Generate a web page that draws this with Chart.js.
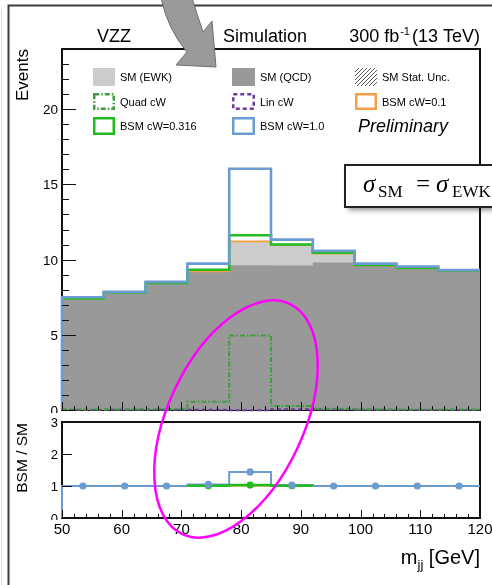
<!DOCTYPE html>
<html>
<head>
<meta charset="utf-8">
<title>VZZ m_jj</title>
<script src="https://cdn.jsdelivr.net/npm/chart.js@4.4.1/dist/chart.umd.min.js"></script>
<style>
  html, body { margin: 0; padding: 0; background: #ffffff; }
  #wrap { position: relative; width: 492px; height: 585px; overflow: hidden; }
  #wrap canvas { position: absolute; left: 0; }
  #main { top: 0; }
  #ratio { top: 413px; }
  #notes { top: 0; pointer-events: none; }
</style>
</head>
<body>
<div id="wrap">
  <canvas id="main" width="492" height="413"></canvas>
  <canvas id="ratio" width="492" height="172"></canvas>
  <canvas id="notes" width="492" height="585"></canvas>
</div>
<script>
// ---- m_jj binning (GeV) ----
const binEdges = [50, 57, 64, 71, 78, 85, 92, 99, 106, 113, 120];

// ---- expected events per bin ----
const smQCD    = [7.40, 7.80, 8.45, 9.20, 9.62, 9.60, 9.80, 9.60, 9.40, 9.25];
const smEWK    = [0.02, 0.02, 0.02, 0.05, 1.53, 1.37, 0.60, 0.05, 0.05, 0.03];
const quadCW   = [0.03, 0.03, 0.05, 0.55, 4.95, 0.27, 0.08, 0.04, 0.03, 0.03];
const linCW    = [0.00, 0.01, 0.01, 0.02, -0.02, 0.05, 0.03, 0.01, 0.00, 0.00];
const bsmCW01  = [7.40, 7.80, 8.45, 9.22, 11.20, 10.97, 10.41, 9.62, 9.42, 9.27];
const bsmCW0316 = [7.42, 7.82, 8.45, 9.32, 11.62, 11.00, 10.45, 9.64, 9.44, 9.28];
const bsmCW1   = [7.50, 7.85, 8.52, 9.73, 16.04, 11.33, 10.58, 9.73, 9.53, 9.30];

// ---- BSM / SM ratios per bin (null: bin not drawn) ----
const ratioCW01   = [null, null, null, 1.00, 1.005, 1.00, null, null, null, null];
const ratioCW0316 = [null, null, null, 1.01, 1.03, 1.01, null, null, null, null];
const ratioCW1    = [1.00, 1.00, 1.00, 1.05, 1.44, 1.03, 1.00, 1.00, 1.00, 1.00];

// ---- axis tick labels ----
const eventTicks = [0, 5, 10, 15, 20];
const ratioTicks = [0, 1, 2, 3];
const massTicks  = [50, 60, 70, 80, 90, 100, 110, 120];

const SANS = '"Liberation Sans", Arial, Helvetica, sans-serif';
const SERIF = '"Liberation Serif", "DejaVu Serif", serif';

const C = {
  ewk: '#cccccc', qcd: '#999999',
  quad: '#3f9c3f', lin: '#6a3d9a',
  cw01: '#f2a14a', cw0316: '#1fbd1f', cw1: '#6b9bcf'
};

const smTotal = smQCD.map((v, i) => v + smEWK[i]);
const binCenters = binEdges.slice(0, -1).map((e, i) => (e + binEdges[i + 1]) / 2);

// histogram outline as stepped points: each bin's value sits at its right edge;
// Chart.js 'after' stepping rises at the previous (left) edge, then runs flat.
// Empty (null) bins break the outline.
function stepPoints(vals, fromZero) {
  const pts = [];
  let open = false;
  vals.forEach((v, i) => {
    if (v === null) {
      if (open) pts.push({ x: binEdges[i], y: null });
      open = false;
      return;
    }
    if (!open) pts.push({ x: binEdges[i], y: (i === 0 && fromZero) ? 0 : v });
    pts.push({ x: binEdges[i + 1], y: v });
    open = true;
  });
  return pts;
}
function stepLine(label, vals, color, width, dash, order, fromZero) {
  return {
    label, data: stepPoints(vals, fromZero), stepped: 'after', spanGaps: false,
    borderColor: color, borderWidth: width, borderDash: dash || [],
    borderJoinStyle: 'miter', borderCapStyle: 'butt',
    fill: false, pointRadius: 0, order, clip: 6
  };
}
function stepFill(label, vals, color, order) {
  return {
    label, data: stepPoints(vals, false), stepped: 'after',
    borderColor: 'rgba(0,0,0,0)', borderWidth: 0,
    backgroundColor: color, fill: 'origin', pointRadius: 0, order
  };
}
function markers(label, vals, color, order) {
  return {
    label,
    data: binCenters.map((x, i) => ({ x, y: vals[i] })).filter(p => p.y !== null),
    showLine: false, pointRadius: 3.6, pointBackgroundColor: color,
    pointBorderWidth: 0, order, clip: 6
  };
}

// ---- drawing helpers ----
function frame(ctx, a, w) {
  ctx.save();
  ctx.strokeStyle = '#111';
  ctx.lineWidth = w;
  ctx.strokeRect(a.left, a.top, a.right - a.left, a.bottom - a.top);
  ctx.restore();
}
function xTicks(ctx, sx, yBase, majorLen, minorLen) {
  ctx.save();
  ctx.strokeStyle = '#111';
  ctx.lineWidth = 1;
  ctx.beginPath();
  for (let v = sx.min; v <= sx.max + 1e-9; v += 2) {
    const px = Math.round(sx.getPixelForValue(v)) + 0.5;
    const len = massTicks.includes(v) ? majorLen : minorLen;
    ctx.moveTo(px, yBase);
    ctx.lineTo(px, yBase - len);
  }
  ctx.stroke();
  ctx.restore();
}
function rotatedText(ctx, txt, x, y, font) {
  ctx.save();
  ctx.translate(x, y);
  ctx.rotate(-Math.PI / 2);
  ctx.font = font;
  ctx.fillStyle = '#000';
  ctx.textAlign = 'right';
  ctx.textBaseline = 'alphabetic';
  ctx.fillText(txt, 0, 0);
  ctx.restore();
}

// ---- main panel decorations: frame, axes, titles, legend ----
const mainDecor = {
  id: 'mainDecor',
  beforeDatasetsDraw(chart) {
    frame(chart.ctx, chart.chartArea, 2);
  },
  afterDatasetsDraw(chart) {
    const ctx = chart.ctx, a = chart.chartArea;
    const sx = chart.scales.x, sy = chart.scales.y;

    // y ticks (inside) and labels
    ctx.save();
    ctx.strokeStyle = '#111';
    ctx.lineWidth = 1;
    ctx.beginPath();
    for (let v = 0; v <= sy.max; v += 1) {
      const py = Math.round(sy.getPixelForValue(v)) + 0.5;
      const len = eventTicks.includes(v) ? 14 : 7;
      ctx.moveTo(a.left, py);
      ctx.lineTo(a.left + len, py);
    }
    ctx.stroke();
    ctx.font = '13.5px ' + SANS;
    ctx.fillStyle = '#000';
    ctx.textAlign = 'right';
    ctx.textBaseline = 'alphabetic';
    eventTicks.forEach(v => {
      ctx.fillText(String(v), a.left - 4, sy.getPixelForValue(v) + 5);
    });
    ctx.restore();

    xTicks(ctx, sx, a.bottom, 8, 4);

    rotatedText(ctx, 'Events', 28, a.top, '17px ' + SANS);

    // header
    ctx.save();
    ctx.fillStyle = '#000';
    ctx.textBaseline = 'alphabetic';
    ctx.font = '18px ' + SANS;
    ctx.textAlign = 'left';
    ctx.fillText('VZZ', 97, 42);
    ctx.fillText('Simulation', 223, 42);
    ctx.textAlign = 'right';
    const tail = '(13 TeV)';
    ctx.fillText(tail, a.right, 42);
    const tailW = ctx.measureText(tail).width;
    ctx.font = '11px ' + SANS;
    const sup = '-1';
    const supW = ctx.measureText(sup).width;
    ctx.fillText(sup, a.right - tailW - 2, 35);
    ctx.font = '18px ' + SANS;
    ctx.fillText('300 fb', a.right - tailW - 2 - supW - 1, 42);
    ctx.restore();

    // legend
    const cols = [93, 232, 355];
    const textX = [120, 260, 382];
    const rows = [{ y: 68, h: 18, base: 81 }, { y: 93, h: 17, base: 106 }, { y: 117, h: 18, base: 130 }];
    const sw = 22;
    ctx.save();
    ctx.font = '11px ' + SANS;
    ctx.fillStyle = '#000';
    ctx.textAlign = 'left';
    ctx.textBaseline = 'alphabetic';

    // row 1
    ctx.fillStyle = C.ewk; ctx.fillRect(cols[0], rows[0].y, sw, rows[0].h);
    ctx.fillStyle = C.qcd; ctx.fillRect(cols[1], rows[0].y, sw + 1, rows[0].h);
    ctx.save();
    ctx.beginPath(); ctx.rect(cols[2], rows[0].y, sw, rows[0].h); ctx.clip();
    ctx.strokeStyle = '#555'; ctx.lineWidth = 1;
    ctx.beginPath();
    for (let k = -18; k < sw + 4; k += 4) {
      ctx.moveTo(cols[2] + k, rows[0].y + rows[0].h);
      ctx.lineTo(cols[2] + k + rows[0].h, rows[0].y);
    }
    ctx.stroke();
    ctx.restore();
    ctx.fillStyle = '#000';
    ctx.fillText('SM (EWK)', textX[0], rows[0].base);
    ctx.fillText('SM (QCD)', textX[1], rows[0].base);
    ctx.fillText('SM Stat. Unc.', textX[2], rows[0].base);

    // outlined swatches
    const box = (x, r, color, dash, wid) => {
      ctx.save();
      ctx.strokeStyle = color; ctx.lineWidth = 2.5; ctx.setLineDash(dash);
      ctx.strokeRect(x + 1.25, r.y + 1.25, wid - 2.5, r.h - 2.5);
      ctx.restore();
    };
    box(cols[0], rows[1], C.quad, [5, 2, 1.5, 2], sw);
    box(cols[1], rows[1], C.lin, [4, 3], sw + 1);
    box(cols[2], rows[1], C.cw01, [], sw);
    box(cols[0], rows[2], C.cw0316, [], sw);
    box(cols[1], rows[2], C.cw1, [], sw + 1);
    ctx.fillText('Quad cW', textX[0], rows[1].base);
    ctx.fillText('Lin cW', textX[1], rows[1].base);
    ctx.fillText('BSM cW=0.1', textX[2], rows[1].base);
    ctx.fillText('BSM cW=0.316', textX[0], rows[2].base);
    ctx.fillText('BSM cW=1.0', textX[1], rows[2].base);
    ctx.font = 'italic 18px ' + SANS;
    ctx.fillText('Preliminary', 358, 132);
    ctx.restore();
  }
};

// ---- ratio panel decorations ----
const ratioDecor = {
  id: 'ratioDecor',
  beforeDatasetsDraw(chart) {
    frame(chart.ctx, chart.chartArea, 2);
  },
  afterDatasetsDraw(chart) {
    const ctx = chart.ctx, a = chart.chartArea;
    const sx = chart.scales.x, sy = chart.scales.y;
    ctx.save();
    ctx.strokeStyle = '#111';
    ctx.lineWidth = 1;
    ctx.beginPath();
    ratioTicks.forEach(v => {
      const py = Math.round(sy.getPixelForValue(v)) + 0.5;
      ctx.moveTo(a.left, py);
      ctx.lineTo(a.left + 10, py);
    });
    ctx.stroke();
    ctx.fillStyle = '#000';
    ctx.font = '13px ' + SANS;
    ctx.textAlign = 'right';
    ctx.textBaseline = 'alphabetic';
    ctx.save();
    ctx.beginPath(); ctx.rect(0, 0, a.left, a.bottom + 2); ctx.clip();
    ratioTicks.forEach(v => {
      ctx.fillText(String(v), a.left - 4, sy.getPixelForValue(v) + 4.5);
    });
    ctx.restore();
    ctx.restore();

    xTicks(ctx, sx, a.bottom, 8, 4);

    ctx.save();
    ctx.fillStyle = '#000';
    ctx.font = '15px ' + SANS;
    ctx.textAlign = 'center';
    ctx.textBaseline = 'alphabetic';
    massTicks.forEach(v => {
      ctx.fillText(String(v), sx.getPixelForValue(v), a.bottom + 16);
    });
    // axis title m_jj [GeV]
    ctx.textAlign = 'right';
    ctx.font = '20px ' + SANS;
    const unit = ' [GeV]';
    const base = a.bottom + 46;
    ctx.fillText(unit, a.right, base);
    const uW = ctx.measureText(unit).width;
    ctx.font = '13px ' + SANS;
    ctx.fillText('jj', a.right - uW, base + 5);
    const jW = ctx.measureText('jj').width;
    ctx.font = '20px ' + SANS;
    ctx.fillText('m', a.right - uW - jW, base);
    ctx.restore();

    rotatedText(ctx, 'BSM / SM', 27, a.top + 1, '15.5px ' + SANS);
  }
};

const commonOpts = (padding, yMax) => ({
  responsive: false,
  animation: false,
  devicePixelRatio: 1,
  events: [],
  layout: { padding },
  plugins: { legend: { display: false }, tooltip: { enabled: false }, title: { display: false } },
  scales: {
    x: { type: 'linear', min: binEdges[0], max: binEdges[binEdges.length - 1], display: false },
    y: { type: 'linear', min: 0, max: yMax, display: false }
  }
});

// main distribution
new Chart(document.getElementById('main'), {
  type: 'line',
  data: {
    datasets: [
      stepFill('SM (EWK)', smTotal, C.ewk, 20),
      stepFill('SM (QCD)', smQCD, C.qcd, 19),
      stepLine('Lin cW', linCW, C.lin, 2, [4, 3], 8),
      stepLine('Quad cW', quadCW, C.quad, 2, [5, 2, 1.5, 2], 7),
      stepLine('BSM cW=0.1', bsmCW01, C.cw01, 2, [], 6),
      stepLine('BSM cW=0.316', bsmCW0316, C.cw0316, 2.6, [], 5),
      stepLine('BSM cW=1.0', bsmCW1, C.cw1, 2.6, [], 4, true)
    ]
  },
  options: commonOpts({ left: 62, right: 12, top: 49, bottom: 3 }, 24),
  plugins: [mainDecor]
});

// ratio panel: blue outline underneath, green/orange on top, blue markers last
new Chart(document.getElementById('ratio'), {
  type: 'line',
  data: {
    datasets: [
      stepLine('BSM cW=1.0 / SM', ratioCW1, C.cw1, 2, [], 9, true),
      stepLine('BSM cW=0.1 / SM', ratioCW01, C.cw01, 2, [], 8),
      stepLine('BSM cW=0.316 / SM', ratioCW0316, C.cw0316, 2.6, [], 7),
      markers('BSM cW=0.316 / SM pts', ratioCW0316, C.cw0316, 6),
      markers('BSM cW=1.0 / SM pts', ratioCW1, C.cw1, 5)
    ]
  },
  options: commonOpts({ left: 62, right: 12, top: 9, bottom: 67 }, 3),
  plugins: [ratioDecor]
});

// ---- slide annotations: border, arrow, cross-section box, highlight ----
(function drawNotes() {
  const ctx = document.getElementById('notes').getContext('2d');

  // slide border
  ctx.strokeStyle = '#dcdcdc';
  ctx.lineWidth = 1;
  ctx.beginPath(); ctx.moveTo(1.5, 9); ctx.lineTo(1.5, 585); ctx.stroke();
  ctx.strokeStyle = '#3c3c3c';
  ctx.lineWidth = 2;
  ctx.beginPath(); ctx.moveTo(8.5, 585); ctx.lineTo(8.5, 5.5); ctx.lineTo(492, 5.5); ctx.stroke();

  // curved arrow
  ctx.beginPath();
  ctx.moveTo(161, -2);
  ctx.quadraticCurveTo(168, 30, 187, 52);
  ctx.lineTo(176, 65);
  ctx.lineTo(216, 67);
  ctx.lineTo(212, 21);
  ctx.lineTo(203, 32);
  ctx.quadraticCurveTo(197, 14, 192, -2);
  ctx.closePath();
  ctx.fillStyle = '#9a9a9a';
  ctx.fill();
  ctx.strokeStyle = '#6e6e6e';
  ctx.lineWidth = 1;
  ctx.stroke();

  // cross-section box
  ctx.save();
  ctx.shadowColor = 'rgba(0,0,0,0.45)';
  ctx.shadowBlur = 5;
  ctx.shadowOffsetX = 3;
  ctx.shadowOffsetY = 3;
  ctx.fillStyle = '#ffffff';
  ctx.fillRect(345, 165, 160, 42);
  ctx.restore();
  ctx.strokeStyle = '#222';
  ctx.lineWidth = 2;
  ctx.strokeRect(345, 165, 160, 42);
  ctx.fillStyle = '#000';
  ctx.textBaseline = 'alphabetic';
  ctx.textAlign = 'left';
  ctx.font = 'italic 25px ' + SERIF;
  ctx.fillText('σ', 363, 192);
  ctx.font = '17px ' + SERIF;
  ctx.fillText('SM', 378, 197);
  ctx.font = '25px ' + SERIF;
  ctx.fillText('=', 416, 192);
  ctx.font = 'italic 25px ' + SERIF;
  ctx.fillText('σ', 436, 192);
  ctx.font = '17px ' + SERIF;
  ctx.fillText('EWK', 452, 197);

  // highlight ellipse
  ctx.strokeStyle = '#ff00ff';
  ctx.lineWidth = 2.5;
  ctx.beginPath();
  ctx.ellipse(236, 419, 68, 127, 25 * Math.PI / 180, 0, 2 * Math.PI);
  ctx.stroke();
})();
</script>
</body>
</html>
